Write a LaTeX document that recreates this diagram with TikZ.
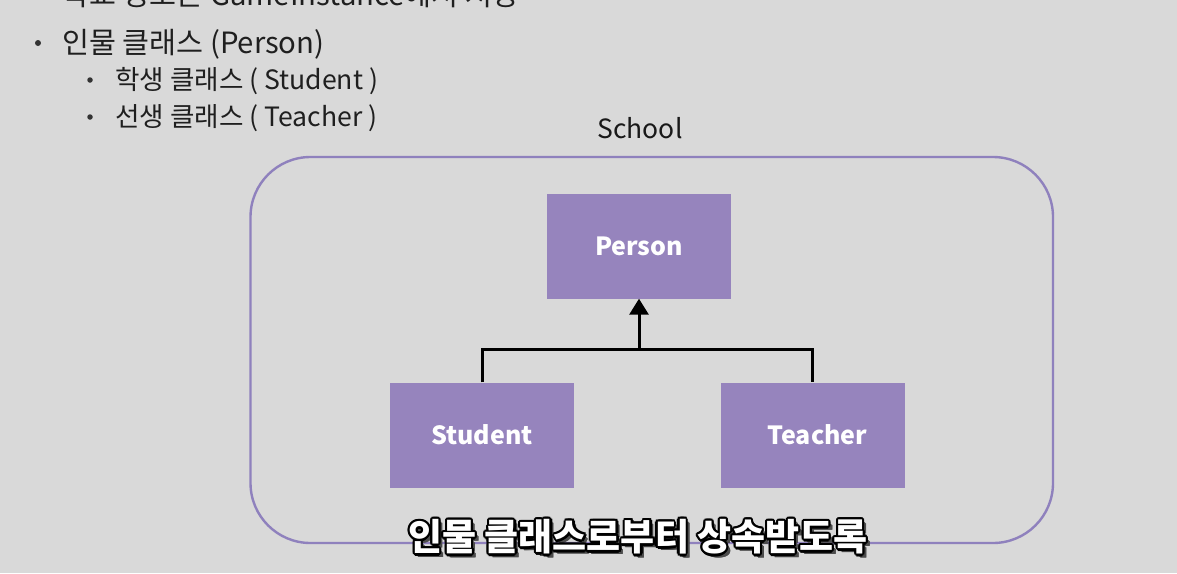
\documentclass[tikz,border=0pt]{standalone}
\usepackage{fontspec}
\setmainfont{Noto Sans CJK KR}
\usetikzlibrary{arrows.meta,calc}
\definecolor{bg}{HTML}{D9D9D9}
\definecolor{boxfill}{HTML}{9684BD}
\definecolor{framecol}{HTML}{8F81BD}
\begin{document}
\begin{tikzpicture}[x=1pt,y=-1pt,
  classbox/.style={fill=boxfill, draw=none, minimum width=184pt, minimum height=105pt,
    inner sep=0pt, text=white, font=\fontsize{25}{30}\selectfont\bfseries},
  bodytext/.style={anchor=base west, inner sep=0pt, text=black!88},
  lvlone/.style={bodytext, font=\fontsize{29.3}{34}\selectfont},
  lvltwo/.style={bodytext, font=\fontsize{26.6}{31}\selectfont},
  bulletdot/.style={circle, fill=black!80, inner sep=0pt, minimum size=6pt},
  inherit/.style={line width=3pt, black},
  subtitle/.style={font=\fontsize{37}{42}\selectfont\bfseries, inner sep=0pt}
]
\clip (0,0) rectangle (1177,573);
\fill[bg] (0,0) rectangle (1177,573);
\useasboundingbox (0,0) rectangle (1177,573);

% bullet text
\node[lvlone] (topline) at (62,5) {학교 정보는 GameInstance에서 저장};
\node[bulletdot] (b1) at (38,43) {};
\node[lvlone] (t1) at (62,53) {인물 클래스 (Person)};
\node[bulletdot, minimum size=5.5pt] (b2) at (90,80) {};
\node[lvltwo] (t2) at (115,89) {학생 클래스 ( Student )};
\node[bulletdot, minimum size=5.5pt] (b3) at (90,117) {};
\node[lvltwo] (t3) at (115,126) {선생 클래스 ( Teacher )};

% school frame
\node[font=\fontsize{26.5}{30}\selectfont, text=black!90, inner sep=0pt, anchor=base] (school) at (640,138) {School};
\draw[framecol, line width=2.4pt, rounded corners=60pt] (250.5,157) rectangle (1053,543);

% classes
\node[classbox] (person) at (639,246) {Person};
\node[classbox] (student) at (482,435) {Student};
\node[classbox] (teacher) at (812.5,435) {\hspace*{10pt}Teacher};

\coordinate (junction) at (639,349);
\draw[inherit, -{Triangle[width=19pt,length=16pt]}] (junction) -- (person.south);
\draw[inherit] (student.north) |- (junction) -| (teacher.north);

% subtitle with outline
\foreach \dx/\dy in {2.5/2.5,3/3,3.5/3.5,4/4}{
  \node[subtitle, text=black!70] at (638+\dx,537+\dy) {인물 클래스로부터 상속받도록};
}
\foreach \a in {0,30,...,330}{
  \node[subtitle, text=black] at ($(638,537)+(\a:2.2)$) {인물 클래스로부터 상속받도록};
}
\node[subtitle, text=white] (sub) at (638,537) {인물 클래스로부터 상속받도록};
\end{tikzpicture}
\end{document}
